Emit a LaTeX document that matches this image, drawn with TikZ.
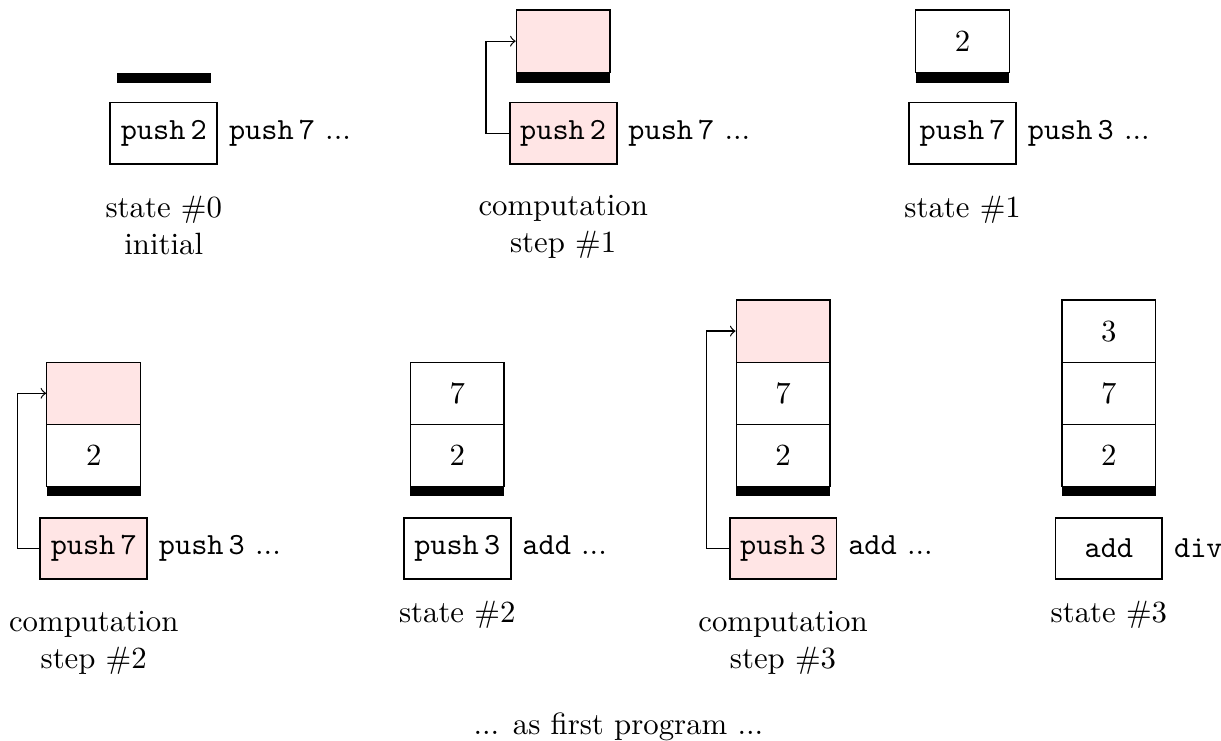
\documentclass[tikz,border=0pt]{standalone}
\begin{document}
\begin{tikzpicture}[every node/.style={align=center},
    cell/.style={draw, minimum width=1.07cm, minimum height=0.71cm, inner sep=0pt},
    fresh/.style={cell, fill=red!10},
    stackbase/.style={fill=black, minimum width=1.07cm, minimum height=0.11cm, inner sep=0pt},
    instr/.style={draw, semithick, minimum width=1.22cm, minimum height=0.7cm, font=\ttfamily},
    active/.style={instr, fill=red!10}]
    \useasboundingbox (0,0) rectangle (13.94,-8.45);

    % State #0 (initial, empty stack)
    \node[stackbase] (base0) at (1.87, -0.89) {};
    \node[instr] (prog0) at (1.87, -1.52) {push\,2};
    \node[anchor=base west] (next0) at (prog0.base east) {\texttt{push\,7} ...};
    \node[anchor=north] (label0) at (1.87, -2.11) {state \#0 \\ initial};

    % Computation step #1
    \node[fresh] (top1) at (6.43, -0.47) {};
    \node[stackbase] (base1) at (6.43, -0.89) {};
    \node[active] (prog1) at (6.43, -1.52) {push\,2};
    \node[anchor=base west] (next1) at (prog1.base east) {\texttt{push\,7} ...};
    \node[anchor=north] (label1) at (6.43, -2.11) {computation \\ step \#1};
    \draw[->] (prog1.west) -- ++(-0.26,0) |- (top1.west);

    % State #1
    \node[cell] (s1a) at (10.99, -0.47) {2};
    \node[stackbase] (base2) at (10.99, -0.89) {};
    \node[instr] (prog2) at (10.99, -1.52) {push\,7};
    \node[anchor=base west] (next2) at (prog2.base east) {\texttt{push\,3} ...};
    \node[anchor=north] (label2) at (10.99, -2.11) {state \#1};

    % Computation step #2
    \node[fresh] (top3) at (1.07, -4.49) {};
    \node[cell] (s3a) at (1.07, -5.2) {2};
    \node[stackbase] (base3) at (1.07, -5.61) {};
    \node[active] (prog3) at (1.07, -6.26) {push\,7};
    \node[anchor=base west] (next3) at (prog3.base east) {\texttt{push\,3} ...};
    \node[anchor=north] (label3) at (1.07, -6.86) {computation \\ step \#2};
    \draw[->] (prog3.west) -- ++(-0.25,0) |- (top3.west);

    % State #2
    \node[cell] (s4b) at (5.22, -4.49) {7};
    \node[cell] (s4a) at (5.22, -5.2) {2};
    \node[stackbase] (base4) at (5.22, -5.61) {};
    \node[instr] (prog4) at (5.22, -6.26) {push\,3};
    \node[anchor=base west] (next4) at (prog4.base east) {\texttt{add} ...};
    \node[anchor=north] (label4) at (5.22, -6.74) {state \#2};

    % Computation step #3
    \node[fresh] (top5) at (8.94, -3.78) {};
    \node[cell] (s5b) at (8.94, -4.49) {7};
    \node[cell] (s5a) at (8.94, -5.2) {2};
    \node[stackbase] (base5) at (8.94, -5.61) {};
    \node[active] (prog5) at (8.94, -6.26) {push\,3};
    \node[anchor=base west] (next5) at (prog5.base east) {\texttt{add} ...};
    \node[anchor=north] (label5) at (8.94, -6.86) {computation \\ step \#3};
    \draw[->] (prog5.west) -- ++(-0.25,0) |- (top5.west);

    % State #3
    \node[cell] (s6c) at (12.66, -3.78) {3};
    \node[cell] (s6b) at (12.66, -4.49) {7};
    \node[cell] (s6a) at (12.66, -5.2) {2};
    \node[stackbase] (base6) at (12.66, -5.61) {};
    \node[instr] (prog6) at (12.66, -6.26) {add};
    \node[anchor=base west] (next6) at (prog6.base east) {\texttt{div}};
    \node[anchor=north] (label6) at (12.66, -6.74) {state \#3};

    % Rest of the run
    \node[anchor=base] (rest) at (7.06, -8.39) {... as first program ...};
\end{tikzpicture}
\end{document}
